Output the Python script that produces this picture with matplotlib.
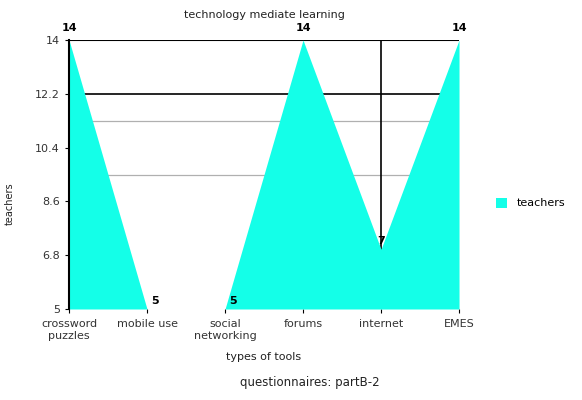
import matplotlib.pyplot as plt

# data
tools = ['crossword\npuzzles', 'mobile use', 'social\nnetworking', 'forums', 'internet', 'EMES']
teachers = [14, 5, 5, 14, 7, 14]
yticks = [5, 6.8, 8.6, 10.4, 12.2, 14]

fig = plt.figure(figsize=(5.82, 4), dpi=100)
ax = fig.add_axes([0.1186, 0.2275, 0.6701, 0.6725])

x = list(range(len(tools)))

# grid lines seen in the picture
ax.axhline(12.2, color='black', lw=1.2, zorder=1)
ax.axhline(11.3, color='#b0b0b0', lw=0.9, zorder=1)
ax.axhline(9.5, color='#b0b0b0', lw=0.9, zorder=1)
ax.axhline(14, color='black', lw=1.5, zorder=1)
ax.axvline(4, color='black', lw=1.2, zorder=1)

ax.fill_between(x, 5, teachers, color='#14ffe8', lw=0, zorder=2, label='teachers')

for xi, v in zip(x, teachers):
    if v == 14:
        ax.text(xi, v + 0.25, str(v), ha='center', va='bottom', fontsize=8, fontweight='bold')
    elif v == 5:
        ax.text(xi + 0.05, v + 0.1, str(v), ha='left', va='bottom', fontsize=8, fontweight='bold')
    else:
        ax.text(xi, v + 0.1, str(v), ha='center', va='bottom', fontsize=8, fontweight='bold', zorder=3)

ax.set_xlim(0, 5)
ax.set_ylim(5, 14)
ax.set_yticks(yticks)
ax.set_yticklabels(['5', '6.8', '8.6', '10.4', '12.2', '14'])
ax.set_xticks(x)
ax.set_xticklabels(tools, fontsize=8, color='#333333', linespacing=1.3)
ax.tick_params(axis='y', labelsize=8, labelcolor='#333333', length=3)
ax.tick_params(axis='x', length=3, pad=4)

for s in ['right', 'bottom', 'top']:
    ax.spines[s].set_visible(False)
ax.spines['left'].set_linewidth(1.5)

ax.set_title('technology mediate learning', fontsize=8, color='#222222', pad=16)
ax.set_xlabel('types of tools', fontsize=8, color='#222222', labelpad=8)
ax.set_ylabel('teachers', fontsize=7, color='#222222')
ax.yaxis.set_label_coords(-0.14, 0.39)
fig.text(0.533, 0.035, 'questionnaires: partB-2', fontsize=8.5, color='#222222', ha='center')

ax.legend(loc='center left', bbox_to_anchor=(1.07, 0.394), frameon=False, fontsize=8,
          handlelength=1.0, handleheight=1.0)

fig.savefig('out.png', dpi=100)
